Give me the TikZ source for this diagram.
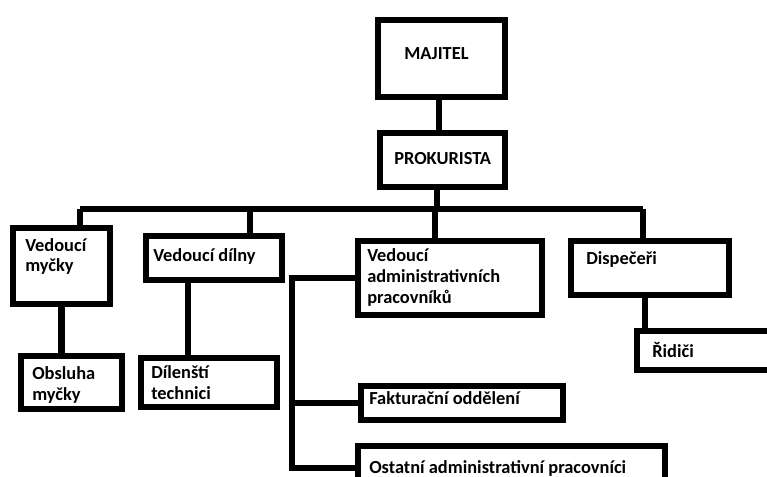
\documentclass[tikz,border=0pt]{standalone}
\usepackage{fontspec}
\setmainfont{Carlito}
\usetikzlibrary{fit}
\begin{document}
\begin{tikzpicture}[x=0.75pt,y=-0.75pt,
 box/.style={draw=black, line width=5pt, inner sep=0pt, fill=none},
 lbl/.style={anchor=base west, inner sep=0pt, font=\fontsize{13.8}{15.4}\selectfont\bfseries, align=left, text=black},
 conn/.style={draw=black, line width=5pt}]
\useasboundingbox (0,0) rectangle (767,477);
\clip (0,0) rectangle (767,477);
\fill[white] (0,0) rectangle (767,477);
% texts (anchored at the baseline of their last line)
\node[lbl] (tmaj) at (404,60) {MAJITEL};
\node[lbl] (tpro) at (394,165) {PROKURISTA};
\node[lbl] (tmyc) at (25,272) {Vedoucí\\myčky};
\node[lbl] (tdil) at (153,262) {Vedoucí dílny};
\node[lbl] (tobs) at (32,400) {Obsluha\\myčky};
\node[lbl] (tdlt) at (151,399) {Dílenští\\technici};
\node[lbl] (tadm) at (367,303) {Vedoucí\\administrativních\\pracovníků};
\node[lbl] (tfak) at (369,404) {Fakturační oddělení};
\node[lbl] (tost) at (369,473) {Ostatní administrativní pracovníci};
\node[lbl] (tdis) at (586,265) {Dispečeři};
\node[lbl] (trid) at (652,357) {Řidiči};
% boxes
\node[box, fit={(378,20) (505,97)}] (maj) {};
\node[box, fit={(380,133) (505,187)}] (pro) {};
\node[box, fit={(13,228) (110,304)}] (myc) {};
\node[box, fit={(146,236) (282,280)}] (dil) {};
\node[box, fit={(358,241) (542,315)}] (adm) {};
\node[box, fit={(571,241) (729,295)}] (dis) {};
\node[box, fit={(21,356) (122,409)}] (obs) {};
\node[box, fit={(141,358) (277,407)}] (dlt) {};
\node[box, fit={(361,386) (563,420)}] (fak) {};
\node[box, fit={(358,446) (665,490)}] (ost) {};
\node[box, fit={(637,331) (790,370)}] (rid) {};
% bus coordinates
\coordinate (b0) at (437,209);
\coordinate (b1) at (80,209);
\coordinate (b2) at (250,209);
\coordinate (b3) at (435,209);
\coordinate (b4) at (643,209);
\coordinate (d1) at (439,100);
\coordinate (d2) at (188,300);
\coordinate (d4) at (645,300);
\coordinate (v) at (292,300);
% connectors
\draw[conn] (d1 |- maj.south) -- (d1 |- pro.north);
\draw[conn] (pro.south -| b0) -- (b0);
\draw[conn] (b1) -- (b4);
\draw[conn] (b1) -- (b1 |- myc.north);
\draw[conn] (b2) -- (b2 |- dil.north);
\draw[conn] (b3) -- (b3 |- adm.north);
\draw[conn] (b4) -- (b4 |- dis.north);
\draw[conn] (myc.south) -- (myc.south |- obs.north);
\draw[conn] (d2 |- dil.south) -- (d2 |- dlt.north);
\draw[conn] (d4 |- dis.south) -- (d4 |- rid.north);
\draw[conn] (adm.west) -- (adm.west -| v) -- (v |- ost.west) -- (ost.west);
\draw[conn] (v |- fak.west) -- (fak.west);
\end{tikzpicture}
\end{document}
